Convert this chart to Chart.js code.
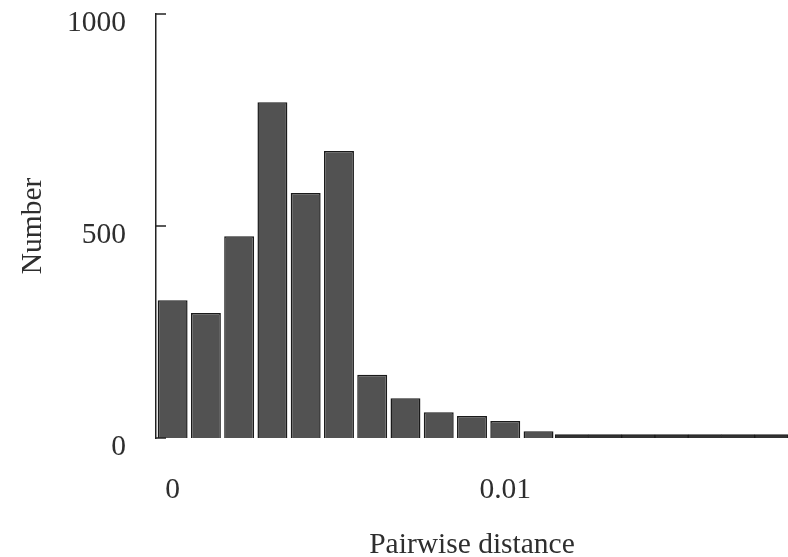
<!DOCTYPE html>
<html>
<head>
<meta charset="utf-8">
<script src="https://cdn.jsdelivr.net/npm/chart.js@4/dist/chart.umd.min.js"></script>
<style>
  html, body { margin: 0; padding: 0; background: #fff; }
  #wrap { width: 788px; height: 557px; position: relative; }
</style>
</head>
<body>
<div id="wrap"><canvas id="chart"></canvas></div>
<script>
// Histogram bins (pairwise distance, step 0.001)
const distanceBins = ['0', '0.001', '0.002', '0.003', '0.004', '0.005', '0.006', '0.007', '0.008', '0.009',
  '0.01', '0.011', '0.012', '0.013', '0.014', '0.015', '0.016', '0.017', '0.018'];
const counts = [325, 295, 476, 792, 578, 677, 149, 94, 61, 52, 40, 16, null, null, null, null, null, null, null];
const tailCounts = [null, null, null, null, null, null, null, null, null, null, null, null, 8, 8, 8, 8, 8, 8, 8];
const shownTicks = ['0', '0.01'];
const yTicks = [0, 500, 1000];

const ink = '#2e2e2e';
const serif = '"Liberation Serif", "DejaVu Serif", serif';
const fontBig = { family: serif, size: 29.5, lineHeight: 1 };

// inward tick marks on the y axis
const inwardTicks = {
  id: 'inwardTicks',
  afterDraw(chart) {
    const y = chart.scales.y;
    const ctx = chart.ctx;
    ctx.save();
    ctx.strokeStyle = '#222';
    ctx.lineWidth = 1.5;
    yTicks.forEach((v) => {
      const py = y.getPixelForValue(v);
      ctx.beginPath();
      ctx.moveTo(y.right, py);
      ctx.lineTo(y.right + 10, py);
      ctx.stroke();
    });
    ctx.restore();
  }
};

function noEdgePadding(scale) {
  scale.paddingLeft = 0; scale.paddingRight = 0;
  scale.paddingTop = 0; scale.paddingBottom = 0;
}

new Chart(document.getElementById('chart').getContext('2d'), {
  type: 'bar',
  data: {
    labels: distanceBins,
    datasets: [
      { data: counts, backgroundColor: '#525252', borderColor: '#1a1a1a', borderWidth: 1.5,
        barPercentage: 0.9, categoryPercentage: 1 },
      { data: tailCounts, backgroundColor: '#333333', borderColor: '#1a1a1a', borderWidth: 1,
        barPercentage: 1, categoryPercentage: 1 },
    ]
  },
  options: {
    animation: false,
    responsive: true,
    maintainAspectRatio: false,
    devicePixelRatio: 1,
    layout: { padding: { top: 14, right: 0, bottom: 0, left: 18 } },
    plugins: { legend: { display: false }, tooltip: { enabled: false } },
    scales: {
      x: {
        stacked: true,
        afterFit: noEdgePadding,
        grid: { display: false, drawTicks: false },
        border: { display: false },
        ticks: {
          autoSkip: false, maxRotation: 0, padding: 37, color: ink, font: fontBig,
          callback: function (val) {
            const lab = this.getLabelForValue(val);
            return shownTicks.includes(lab) ? lab : '';
          }
        },
        title: { display: true, text: 'Pairwise distance', color: ink,
          font: fontBig, padding: { top: -11, bottom: -3 } }
      },
      y: {
        min: 0, max: 1000,
        afterFit: noEdgePadding,
        afterBuildTicks: (axis) => { axis.ticks = yTicks.map(v => ({ value: v })); },
        grid: { display: false, drawTicks: false },
        border: { display: true, color: '#222', width: 1.5 },
        ticks: { padding: 30, labelOffset: 9, color: ink, font: fontBig,
          callback: (v) => String(v) },
        title: { display: true, text: 'Number', color: ink,
          font: fontBig, padding: { top: 0, bottom: -10.5 } }
      }
    }
  },
  plugins: [inwardTicks]
});
</script>
</body>
</html>
